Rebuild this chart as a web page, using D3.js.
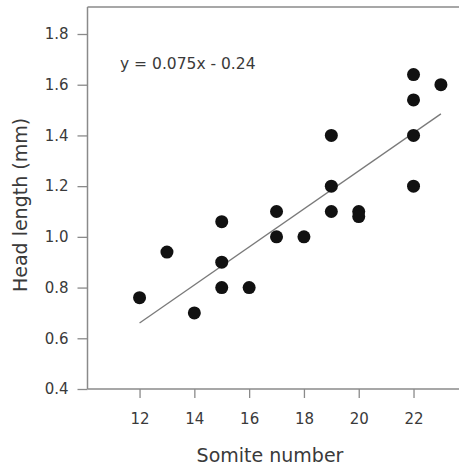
<!DOCTYPE html>
<html>
<head>
<meta charset="utf-8">
<script src="https://cdn.jsdelivr.net/npm/d3@7"></script>
<style>
  html, body { margin: 0; padding: 0; background: #fff; }
  svg { display: block; font-family: "DejaVu Sans", sans-serif; }
</style>
</head>
<body>
<svg id="chart" width="459" height="466"></svg>
<script>
// Data
const somite = [12, 13, 14, 15, 15, 15, 16, 17, 17, 18, 19, 19, 19, 20, 20, 22, 22, 22, 22, 23];
const headLength = [0.76, 0.94, 0.70, 0.90, 0.80, 1.06, 0.80, 1.10, 1.00, 1.00, 1.40, 1.20, 1.10, 1.10, 1.08, 1.64, 1.54, 1.40, 1.20, 1.60];
const fitX = [12, 23];
const fitY = [0.66, 1.485];
const xTicks = [12, 14, 16, 18, 20, 22];
const yTicks = [0.4, 0.6, 0.8, 1.0, 1.2, 1.4, 1.6, 1.8];
const equationLabel = "y = 0.075x - 0.24";
const xTitle = "Somite number";
const yTitle = "Head length (mm)";

(function () {
const svg = d3.select("#chart");
const mLeft = 87.5, mRight = 459, mTop = 7, mBottom = 389;
const font = "DejaVu Sans, sans-serif";

const x = d3.scaleLinear().domain([10.1, 23.66]).range([mLeft, mRight]);
const y = d3.scaleLinear().domain([0.4, 1.9065]).range([mBottom, mTop]);

const axisColor = "#8a8a8a";
const textColor = "#3a3a3a";

// top border
svg.append("line")
  .attr("x1", mLeft).attr("x2", mRight)
  .attr("y1", mTop).attr("y2", mTop)
  .attr("stroke", axisColor).attr("stroke-width", 1.5);

// x axis
const gx = svg.append("g").attr("transform", `translate(0,${mBottom})`)
  .call(d3.axisBottom(x).tickValues(xTicks).tickSize(9).tickPadding(15).tickFormat(d3.format("d")));
gx.select(".domain").attr("stroke", axisColor).attr("stroke-width", 1.5)
  .attr("d", `M${mLeft},0H${mRight}`);
gx.selectAll(".tick line").attr("stroke", axisColor).attr("stroke-width", 1.3);
gx.selectAll(".tick text").attr("fill", textColor).attr("font-size", 15)
  .attr("font-family", font);

// y axis
const gy = svg.append("g").attr("transform", `translate(${mLeft},0)`)
  .call(d3.axisLeft(y).tickValues(yTicks).tickSize(10).tickPadding(9).tickFormat(d3.format(".1f")));
gy.select(".domain").attr("stroke", axisColor).attr("stroke-width", 1.5)
  .attr("d", `M0,${mBottom}V${mTop}`);
gy.selectAll(".tick line").attr("stroke", axisColor).attr("stroke-width", 1.3);
gy.selectAll(".tick text").attr("fill", textColor).attr("font-size", 15)
  .attr("font-family", font);

// regression line
svg.append("line")
  .attr("x1", x(fitX[0])).attr("y1", y(fitY[0]))
  .attr("x2", x(fitX[1])).attr("y2", y(fitY[1]))
  .attr("stroke", "#7a7a7a").attr("stroke-width", 1.3);

// points
svg.append("g").selectAll("circle")
  .data(somite.map((s, i) => [s, headLength[i]]))
  .join("circle")
  .attr("cx", d => x(d[0]))
  .attr("cy", d => y(d[1]))
  .attr("r", 6.5)
  .attr("fill", "#111");

// equation
svg.append("text")
  .attr("x", 120).attr("y", 69)
  .attr("fill", textColor).attr("font-size", 15.5)
  .text(equationLabel);

// axis titles
svg.append("text")
  .attr("x", 270).attr("y", 462)
  .attr("text-anchor", "middle")
  .attr("fill", textColor).attr("font-size", 19)
  .text(xTitle);

svg.append("text")
  .attr("transform", "translate(27,205) rotate(-90)")
  .attr("text-anchor", "middle")
  .attr("fill", textColor).attr("font-size", 19)
  .text(yTitle);
})();
</script>
</body>
</html>
